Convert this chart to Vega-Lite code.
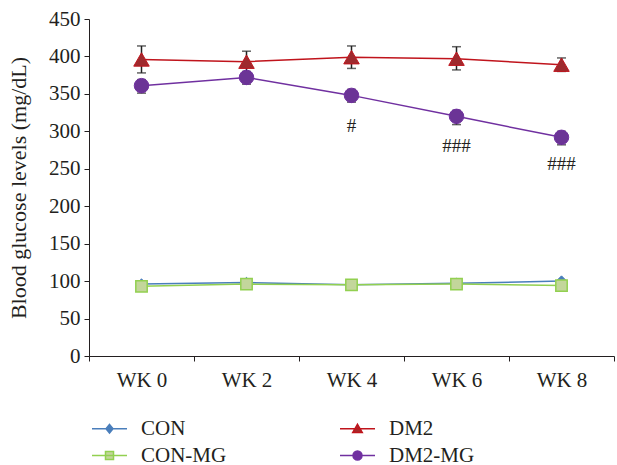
{
  "$schema": "https://vega.github.io/schema/vega-lite/v6.json",
  "width": 525,
  "height": 337,
  "autosize": {"type": "none"},
  "padding": {"left": 89, "top": 19, "right": 3, "bottom": 109},
  "background": "white",
  "config": {
    "font": "Liberation Serif",
    "view": {"stroke": null},
    "axis": {"labelFont": "Liberation Serif", "titleFont": "Liberation Serif", "labelColor": "#231f20", "titleColor": "#231f20", "domainColor": "#231f20", "tickColor": "#231f20", "grid": false},
    "axisY": {"title": "Blood glucose levels (mg/dL)", "titleFontSize": 22, "titleFontWeight": "normal", "titlePadding": 18, "labelFontSize": 21, "labelPadding": 4, "labelOverlap": false, "tickSize": 5, "values": [0, 50, 100, 150, 200, 250, 300, 350, 400, 450]}
  },
  "datasets": {
    "main": [
      {"week": "WK 0", "group": "CON", "glucose": 96},
      {"week": "WK 2", "group": "CON", "glucose": 98},
      {"week": "WK 4", "group": "CON", "glucose": 95},
      {"week": "WK 6", "group": "CON", "glucose": 97},
      {"week": "WK 8", "group": "CON", "glucose": 100},
      {"week": "WK 0", "group": "DM2", "glucose": 396, "lo": 378, "hi": 414},
      {"week": "WK 2", "group": "DM2", "glucose": 393, "lo": 379, "hi": 407},
      {"week": "WK 4", "group": "DM2", "glucose": 399, "lo": 384, "hi": 414},
      {"week": "WK 6", "group": "DM2", "glucose": 397, "lo": 382, "hi": 413},
      {"week": "WK 8", "group": "DM2", "glucose": 389, "lo": 380, "hi": 398},
      {"week": "WK 0", "group": "CON-MG", "glucose": 93},
      {"week": "WK 2", "group": "CON-MG", "glucose": 96},
      {"week": "WK 4", "group": "CON-MG", "glucose": 95},
      {"week": "WK 6", "group": "CON-MG", "glucose": 96},
      {"week": "WK 8", "group": "CON-MG", "glucose": 94},
      {"week": "WK 0", "group": "DM2-MG", "glucose": 361, "lo": 351, "hi": 369},
      {"week": "WK 2", "group": "DM2-MG", "glucose": 372, "lo": 363, "hi": 380},
      {"week": "WK 4", "group": "DM2-MG", "glucose": 348, "lo": 339, "hi": 356},
      {"week": "WK 6", "group": "DM2-MG", "glucose": 320, "lo": 309, "hi": 328},
      {"week": "WK 8", "group": "DM2-MG", "glucose": 292, "lo": 282, "hi": 300}
    ],
    "notes": [
      {"week": "WK 4", "label": "#", "pos": 307},
      {"week": "WK 6", "label": "###", "pos": 281},
      {"week": "WK 8", "label": "###", "pos": 257}
    ]
  },
  "encoding": {
    "x": {
      "field": "week", "type": "ordinal",
      "scale": {"domain": ["WK 0", "WK 2", "WK 4", "WK 6", "WK 8"], "paddingInner": 0, "paddingOuter": 0},
      "axis": {"title": null, "labelAngle": 0, "labelFontSize": 21, "labelPadding": 8, "tickBand": "extent", "tickSize": 5, "domainWidth": 1}
    }
  },
  "layer": [
    {
      "data": {"name": "main"},
      "mark": {"type": "line", "strokeWidth": 1.5},
      "encoding": {
        "y": {
          "field": "glucose", "type": "quantitative",
          "scale": {"domain": [0, 450], "nice": false},
          "title": "Blood glucose levels (mg/dL)"
        },
        "color": {
          "field": "group", "type": "nominal",
          "scale": {"domain": ["CON", "DM2", "CON-MG", "DM2-MG"], "range": ["#4a7ebb", "#c0141c", "#92d050", "#7030a0"]},
          "legend": {
            "title": null,
            "orient": "none",
            "legendX": 7,
            "legendY": 396,
            "direction": "horizontal",
            "columns": 2,
            "columnPadding": 110,
            "rowPadding": 3,
            "symbolSize": 625,
            "symbolStrokeWidth": 1.5,
            "labelFontSize": 21,
            "labelFont": "Liberation Serif",
            "labelColor": "#231f20",
            "labelOffset": 18,
            "encode": {
              "symbols": {
                "update": {
                  "shape": {"signal": "datum.value === 'CON' ? 'M-1.4,0L1.4,0M0,-0.34L0.28,0L0,0.34L-0.28,0Z' : datum.value === 'DM2' ? 'M-1.4,0L1.4,0M0,-0.36L0.38,0.3L-0.38,0.3Z' : datum.value === 'CON-MG' ? 'M-1.4,0L1.4,0M-0.32,-0.32L0.32,-0.32L0.32,0.32L-0.32,0.32Z' : 'M-1.4,0L1.4,0M0.36,0A0.36,0.36,0,1,1,-0.36,0A0.36,0.36,0,1,1,0.36,0Z'"},
                  "fill": {"signal": "datum.value === 'CON' ? '#4a7ebb' : datum.value === 'DM2' ? '#a52a2a' : datum.value === 'CON-MG' ? '#c3d69b' : '#7030a0'"},
                  "fillOpacity": {"value": 1},
                  "strokeWidth": {"value": 1.5}
                }
              }
            }
          }
        }
      }
    },
    {
      "data": {"name": "main"},
      "mark": {"type": "rule", "color": "#222222", "strokeWidth": 1.5},
      "encoding": {"y": {"field": "lo", "type": "quantitative", "title": "Blood glucose levels (mg/dL)"}, "y2": {"field": "hi"}}
    },
    {
      "data": {"name": "main"},
      "mark": {"type": "tick", "color": "#222222", "thickness": 1.5, "size": 9, "orient": "horizontal"},
      "encoding": {"y": {"field": "lo", "type": "quantitative", "title": "Blood glucose levels (mg/dL)"}}
    },
    {
      "data": {"name": "main"},
      "mark": {"type": "tick", "color": "#222222", "thickness": 1.5, "size": 9, "orient": "horizontal"},
      "encoding": {"y": {"field": "hi", "type": "quantitative", "title": "Blood glucose levels (mg/dL)"}}
    },
    {
      "data": {"name": "main"},
      "transform": [{"filter": {"field": "group", "equal": "CON"}}],
      "mark": {"type": "point", "shape": "diamond", "filled": true, "fill": "#4a7ebb", "stroke": "#4a7ebb", "strokeWidth": 1, "size": 110, "opacity": 1},
      "encoding": {"y": {"field": "glucose", "type": "quantitative", "title": "Blood glucose levels (mg/dL)"}}
    },
    {
      "data": {"name": "main"},
      "transform": [{"filter": {"field": "group", "equal": "DM2"}}],
      "mark": {"type": "point", "shape": "triangle-up", "filled": true, "fill": "#9e2a2e", "stroke": "#c0141c", "strokeWidth": 1, "size": 240, "opacity": 1},
      "encoding": {"y": {"field": "glucose", "type": "quantitative", "title": "Blood glucose levels (mg/dL)"}}
    },
    {
      "data": {"name": "main"},
      "transform": [{"filter": {"field": "group", "equal": "CON-MG"}}],
      "mark": {"type": "point", "shape": "square", "filled": true, "fill": "#c3d69b", "stroke": "#92d050", "strokeWidth": 1.5, "size": 130, "opacity": 1},
      "encoding": {"y": {"field": "glucose", "type": "quantitative", "title": "Blood glucose levels (mg/dL)"}}
    },
    {
      "data": {"name": "main"},
      "transform": [{"filter": {"field": "group", "equal": "DM2-MG"}}],
      "mark": {"type": "point", "shape": "circle", "filled": true, "fill": "#6b3496", "stroke": "#7030a0", "strokeWidth": 1, "size": 210, "opacity": 1},
      "encoding": {"y": {"field": "glucose", "type": "quantitative", "title": "Blood glucose levels (mg/dL)"}}
    },
    {
      "data": {"name": "notes"},
      "mark": {"type": "text", "fontSize": 19, "font": "Liberation Serif", "color": "#231f20", "baseline": "middle"},
      "encoding": {
        "y": {"field": "pos", "type": "quantitative", "title": "Blood glucose levels (mg/dL)"},
        "text": {"field": "label"}
      }
    }
  ]
}
